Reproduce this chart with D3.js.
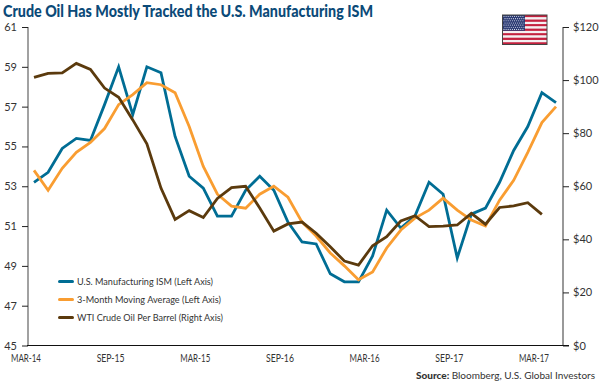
<!DOCTYPE html>
<html><head><meta charset="utf-8">
<script src="https://cdn.jsdelivr.net/npm/d3@7/dist/d3.min.js"></script>
<style>html,body{margin:0;padding:0;background:#fff}svg{display:block}text{font-family:Lato,"Open Sans",sans-serif}</style>
</head><body><div id="chart"></div>
<script>
const ism=[53.2,53.7,54.9,55.4,55.3,57.1,59,56.6,59,58.7,55.5,53.5,52.9,51.5,51.5,52.8,53.5,52.8,51.2,50.2,50.1,48.6,48.2,48.2,49.5,51.8,50.9,51.5,53.2,52.6,49.4,51.6,51.9,53.2,54.8,56,57.7,57.2];
const avg=[53.8,52.8,53.9,54.7,55.2,55.9,57.1,57.6,58.2,58.1,57.7,56,54,52.6,52,51.9,52.6,53,52.45,51.2,50.5,49.65,49,48.3,48.7,49.9,50.8,51.4,51.8,52.4,51.8,51.3,51,52.3,53.3,54.7,56.2,57];
const oil=[101,102.5,102.7,106.3,104,97,93.5,85,76,59.3,47.5,50.8,48.2,55.4,59.5,60,51.8,43.1,45.8,46.5,42.3,37.2,31.8,30.3,37.6,41,46.9,48.9,44.8,45,45.4,49.8,45.7,52,52.6,53.8,49.4];
const tickLabels=["MAR-14","SEP-15","MAR-15","SEP-16","MAR-16","SEP-17","MAR-17"];
const tickIdx=[0,6,12,18,24,30,36];
const leftTicks=[45,47,49,51,53,55,57,59,61];
const rightTicks=[0,20,40,60,80,100,120];
const legendItems=[["U.S. Manufacturing ISM (Left Axis)","#006d94"],["3-Month Moving Average (Left Axis)","#f99d31"],["WTI Crude Oil Per Barrel (Right Axis)","#5b3a0d"]];
const stripeRows=d3.range(13);

const svg=d3.select("#chart").append("svg").attr("width",600).attr("height",385);
const x=d3.scaleLinear().domain([0,37]).range([34,556]);
const yL=d3.scaleLinear().domain([45,61]).range([345.5,27]);
const yR=d3.scaleLinear().domain([0,120]).range([345.5,27]);
const fmt=d=>"$"+d;

svg.append("text").attr("x",3).attr("y",16.5).attr("fill","#0b4a78")
  .attr("textLength",370).attr("lengthAdjust","spacingAndGlyphs")
  .style("font-family","Lato,sans-serif").style("font-weight",900).style("font-size","16px")
  .text("Crude Oil Has Mostly Tracked the U.S. Manufacturing ISM");

// axes
const axisFont=g=>g.selectAll("text").attr("fill","#333").style("font-size","11px");
const gl=svg.append("g").attr("transform","translate(28,0)")
  .call(d3.axisLeft(yL).tickValues(leftTicks).tickFormat(d3.format("d")).tickSize(6).tickPadding(3));
gl.select(".domain").attr("stroke","#8a8a8a").attr("stroke-width",1.6).attr("d","M0,27V345.5");
gl.selectAll(".tick line").attr("stroke","#222");axisFont(gl);
gl.selectAll("text").attr("x",-11);

const gr=svg.append("g").attr("transform","translate(563,0)")
  .call(d3.axisRight(yR).tickValues(rightTicks).tickFormat(fmt).tickSize(6).tickPadding(4));
gr.select(".domain").attr("stroke","#555").attr("stroke-width",1.2).attr("d","M0,27V345.5");
gr.selectAll(".tick line").attr("stroke","#222");axisFont(gr);

svg.append("line").attr("x1",27).attr("x2",569).attr("y1",345.5).attr("y2",345.5).attr("stroke","#111").attr("stroke-width",1.2);

svg.append("g").selectAll("text").data(tickLabels).join("text")
  .attr("x",(d,i)=>x(tickIdx[i])-8).attr("y",362).attr("text-anchor","middle")
  .attr("textLength",d=>d.startsWith("MAR")?30:28).attr("lengthAdjust","spacingAndGlyphs")
  .attr("fill","#333").style("font-size","11px").text(d=>d);

// series
const line=(sc)=>d3.line().x((d,i)=>x(i)).y(d=>sc(d));
[[ism,yL,legendItems[0][1]],[avg,yL,legendItems[1][1]],[oil,yR,legendItems[2][1]]].forEach(([v,s,c])=>{
  svg.append("path").datum(v).attr("d",line(s)).attr("fill","none").attr("stroke",c).attr("stroke-width",2.8).attr("stroke-linejoin","miter");
});

// legend
const legendWidths=[136,144,146];
const lg=svg.append("g").selectAll("g").data(legendItems).join("g")
  .attr("transform",(d,i)=>`translate(59.5,${281.5+i*18})`);
lg.append("line").attr("x1",0).attr("x2",13).attr("stroke",d=>d[1]).attr("stroke-width",3).attr("stroke-linecap","round");
lg.append("text").attr("x",17.5).attr("y",3.5).attr("fill","#333").style("font-size","10px")
  .attr("textLength",(d,i)=>legendWidths[i]).attr("lengthAdjust","spacingAndGlyphs").text(d=>d[0]);

// source
const src=svg.append("text").attr("x",595).attr("y",379).attr("text-anchor","end").attr("fill","#333").style("font-size","10px");
src.append("tspan").style("font-weight",900).text("Source: ");
src.append("tspan").text("Bloomberg, U.S. Global Investors");

// flag
const fx=d3.scaleLinear().domain([0,1]).range([502.5,547]);
const fy=d3.scaleBand().domain(stripeRows).range([15,44.5]);
const flag=svg.append("g");
flag.selectAll("rect.s").data(stripeRows).join("rect").attr("class","s")
  .attr("x",fx(0)).attr("width",fx(1)-fx(0)).attr("y",d=>fy(d)).attr("height",fy.bandwidth()+.2)
  .attr("fill",d=>d%2?"#f4f0f2":"#c4213f");
flag.append("rect").attr("x",fx(0)).attr("y",15).attr("width",22.5).attr("height",15.8).attr("fill","#2b3a73");
const starsX=d3.range(0,10),starsY=d3.range(0,7);
starsY.forEach(r=>starsX.forEach(c=>{
  flag.append("circle").attr("cx",fx(0)+1.5+c*2.1+(r%2?1:0)).attr("cy",16.5+r*2.15).attr("r",.55).attr("fill","#dfe3f0");
}));
flag.append("rect").attr("x",fx(0)).attr("y",15).attr("width",fx(1)-fx(0)).attr("height",29.5).attr("fill","none").attr("stroke","#444").attr("stroke-width",1);
</script></body></html>
